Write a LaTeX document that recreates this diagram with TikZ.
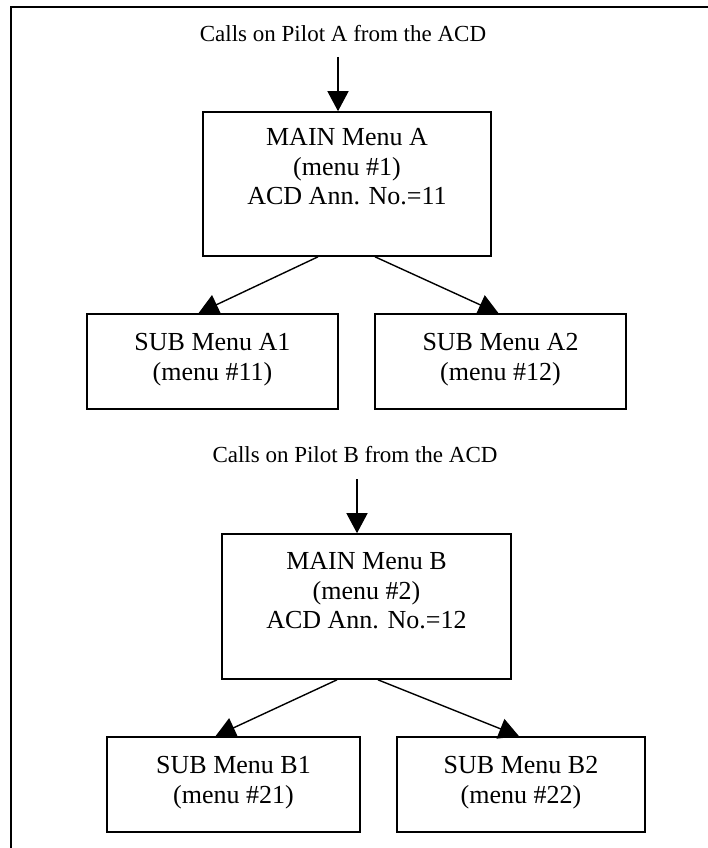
\documentclass[tikz,border=0pt]{standalone}
\usepackage{fontspec}
\setmainfont{Liberation Serif}
\usetikzlibrary{arrows.meta}
\tikzset{
  menubox/.style={draw=black, line width=1.6pt, rectangle, inner sep=0pt},
  boxtext/.style={inner sep=0pt, align=center, anchor=north, font=\fontsize{26}{29.5}\selectfont},
  heading/.style={inner sep=0pt, anchor=base, font=\fontsize{23}{27}\selectfont},
  conn/.style={draw=black, line width=1.4pt, -{Triangle[width=21pt,length=20pt]}},
  frame/.style={draw=black, line width=2.3pt}
}
\begin{document}
\begin{tikzpicture}[x=1pt,y=-1pt]
\useasboundingbox (0,0) rectangle (707,848);
\draw[frame] (11,860) -- (11,7) -- (720,7);
% ---- group A ----
\node[heading] (headA) at (343,42) {Calls on Pilot A from the ACD};
\coordinate (srcA) at (338,57);
\node[menubox, minimum width=288pt, minimum height=144pt] (mainA) at (347,184) {};
\node[boxtext] (mainAt) at ([yshift=-17pt]mainA.north) {MAIN Menu A\\(menu \#1)\\ACD Ann. No.=11};
\node[menubox, minimum width=251pt, minimum height=95pt] (subA1) at (212.5,361.5) {};
\node[boxtext] (subA1t) at ([yshift=-20pt]subA1.north) {SUB Menu A1\\(menu \#11)};
\node[menubox, minimum width=251pt, minimum height=95pt] (subA2) at (500.5,361.5) {};
\node[boxtext] (subA2t) at ([yshift=-20pt]subA2.north) {SUB Menu A2\\(menu \#12)};
\draw[conn] (srcA) -- (srcA |- mainA.north);
\draw[conn] ([xshift=-29pt]mainA.south) -- ([xshift=-14pt]subA1.north);
\draw[conn] ([xshift=28pt]mainA.south) -- ([xshift=-2pt]subA2.north);
% ---- group B ----
\node[heading] (headB) at (355,462) {Calls on Pilot B from the ACD};
\coordinate (srcB) at (357,479);
\node[menubox, minimum width=289pt, minimum height=145pt] (mainB) at (366.5,606.5) {};
\node[boxtext] (mainBt) at ([yshift=-19pt]mainB.north) {MAIN Menu B\\(menu \#2)\\ACD Ann. No.=12};
\node[menubox, minimum width=253pt, minimum height=95pt] (subB1) at (233.5,784.5) {};
\node[boxtext] (subB1t) at ([yshift=-20pt]subB1.north) {SUB Menu B1\\(menu \#21)};
\node[menubox, minimum width=248pt, minimum height=95pt] (subB2) at (521,784.5) {};
\node[boxtext] (subB2t) at ([yshift=-20pt]subB2.north) {SUB Menu B2\\(menu \#22)};
\draw[conn] (srcB) -- (srcB |- mainB.north);
\draw[conn] ([xshift=-29.5pt]mainB.south) -- ([xshift=-18pt]subB1.north);
\draw[conn] ([xshift=11.5pt]mainB.south) -- ([xshift=-2pt]subB2.north);
\end{tikzpicture}
\end{document}
